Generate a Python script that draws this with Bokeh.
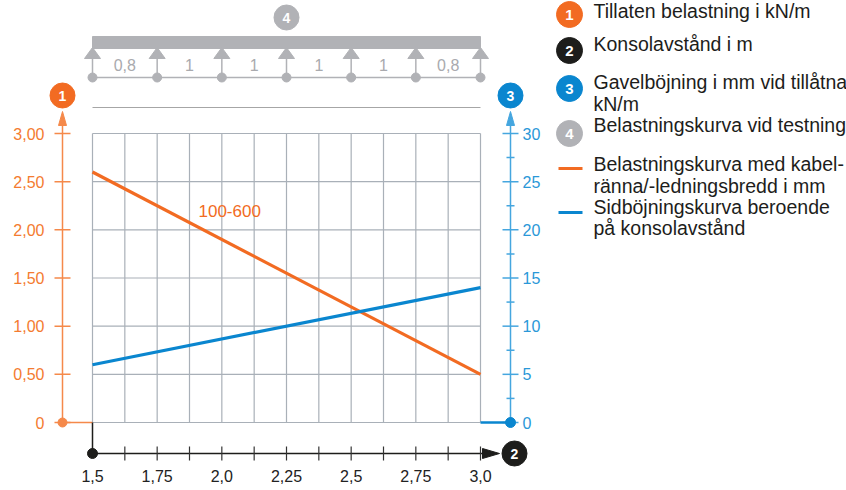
from bokeh.plotting import figure
from bokeh.models import Range1d
from bokeh.core.properties import value
from bokeh.embed import file_html
from bokeh.resources import INLINE

# ---------------- data ----------------
distance = [1.5, 3.0]            # Konsolavstånd i m
load = [2.6, 0.5]                # Tillåten belastning kN/m (100-600)
deflection = [6.0, 14.0]         # Sidböjning i mm
curve_label = "100-600"

x_grid = [1.5, 1.625, 1.75, 1.875, 2.0, 2.125, 2.25, 2.375, 2.5, 2.625, 2.75, 2.875, 3.0]
x_label_pos = [1.5, 1.75, 2.0, 2.25, 2.5, 2.75, 3.0]
x_labels = ["1,5", "1,75", "2,0", "2,25", "2,5", "2,75", "3,0"]

load_ticks = [0, 0.5, 1.0, 1.5, 2.0, 2.5, 3.0]
load_labels = ["0", "0,50", "1,00", "1,50", "2,00", "2,50", "3,00"]

defl_ticks = [0, 5, 10, 15, 20, 25, 30]
defl_minor = [2.5, 7.5, 12.5, 17.5, 22.5, 27.5]
defl_labels = ["0", "5", "10", "15", "20", "25", "30"]

supports = [1.5, 1.75, 2.0, 2.25, 2.5, 2.75, 3.0]
span_labels = ["0,8", "1", "1", "1", "1", "0,8"]

legend_badges = ["1", "2", "3", "4"]
legend_badge_text = [
    ["Tillaten belastning i kN/m"],
    ["Konsolavstånd i m"],
    ["Gavelböjning i mm vid tillåtna", "kN/m"],
    ["Belastningskurva vid testning"],
]
legend_line_text = [
    ["Belastningskurva med kabel-", "ränna/-ledningsbredd i mm"],
    ["Sidböjningskurva beroende", "på konsolavstånd"],
]

# ---------------- style ----------------
ORANGE = "#f26b22"
ORANGE_AX = "#f5894a"
BLUE = "#0a86cf"
BLUE_AX = "#45a6df"
GREY = "#b1b2b6"
GRID = "#a9b0b8"
BLACK = "#1d1d1b"
FONT = value("Liberation Sans")

W, H = 846, 490
KX = 388 / 1.5      # px per m
KY = 289 / 3.0      # px per kN/m


def X(px):  # page px -> data x
    return 1.5 + (px - 92) / KX


def Y(py):  # page px -> data y
    return (422 - py) / KY


p = figure(width=W, height=H, output_backend="svg", toolbar_location=None,
           x_range=Range1d(X(0), X(W)), y_range=Range1d(Y(H), Y(0)),
           min_border=0, outline_line_color=None)
p.extra_y_ranges = {"defl": Range1d(Y(H) * 10, Y(0) * 10)}
p.xaxis.visible = False
p.yaxis.visible = False
p.grid.visible = False
p.background_fill_color = "white"
p.border_fill_color = "white"

x0, x1 = distance[0], distance[-1]
ytop = load_ticks[-1]

# grid
p.segment(x0=x_grid, y0=[0] * len(x_grid), x1=x_grid, y1=[ytop] * len(x_grid),
          line_color=GRID, line_width=1.2)
p.segment(x0=[x0] * len(load_ticks), y0=load_ticks, x1=[x1] * len(load_ticks), y1=load_ticks,
          line_color=GRID, line_width=1.2)

# ---- left axis (load) ----
xl = X(62)
p.segment(x0=[xl], y0=[0], x1=[xl], y1=[Y(124)], line_color=ORANGE_AX, line_width=1.5)
p.patch([xl - 4 / KX, xl + 4 / KX, xl], [Y(125), Y(125), Y(111)], color=ORANGE_AX)
p.segment(x0=[xl - 8 / KX] * len(load_ticks), y0=load_ticks,
          x1=[xl + 8 / KX] * len(load_ticks), y1=load_ticks, line_color=ORANGE_AX, line_width=1.5)
p.text(x=[xl - 18 / KX] * len(load_ticks), y=load_ticks, text=load_labels,
       text_font=FONT, text_font_size="16px", text_color="#f47b30",
       text_align="right", text_baseline="middle")
p.segment(x0=[xl], y0=[0], x1=[x0], y1=[0], line_color=ORANGE_AX, line_width=1.5)
p.scatter([xl], [0], size=9, color=ORANGE_AX)

# ---- right axis (deflection) ----
xr = X(510)
p.segment(x0=[xr], y0=[0], x1=[xr], y1=[Y(124) * 10], y_range_name="defl",
          line_color=BLUE_AX, line_width=1.5)
p.patch([xr - 4 / KX, xr + 4 / KX, xr], [Y(125) * 10, Y(125) * 10, Y(111) * 10],
        color=BLUE_AX, y_range_name="defl")
p.segment(x0=[xr - 8 / KX] * len(defl_ticks), y0=defl_ticks,
          x1=[xr + 8 / KX] * len(defl_ticks), y1=defl_ticks, y_range_name="defl",
          line_color=BLUE_AX, line_width=1.5)
p.segment(x0=[xr - 4 / KX] * len(defl_minor), y0=defl_minor,
          x1=[xr + 4 / KX] * len(defl_minor), y1=defl_minor, y_range_name="defl",
          line_color=BLUE_AX, line_width=1.5)
p.text(x=[xr + 12 / KX] * len(defl_ticks), y=defl_ticks, text=defl_labels,
       y_range_name="defl", text_font=FONT, text_font_size="16px", text_color="#2a98d8",
       text_align="left", text_baseline="middle")
p.segment(x0=[x1], y0=[0], x1=[xr], y1=[0], line_color=BLUE, line_width=2.5)
p.scatter([xr], [0], size=10, color=BLUE)

# ---- bottom axis (distance) ----
yb = Y(453)
p.segment(x0=[x0], y0=[0], x1=[x0], y1=[yb], line_color=BLACK, line_width=1.5)
p.segment(x0=[x0], y0=[yb], x1=[X(484)], y1=[yb], line_color=BLACK, line_width=1.5)
p.patch([X(482), X(482), X(499)], [yb + 5 / KY, yb - 5 / KY, yb], color=BLACK)
p.segment(x0=x_grid[1:], y0=[yb - 7 / KY] * (len(x_grid) - 1),
          x1=x_grid[1:], y1=[yb + 7 / KY] * (len(x_grid) - 1), line_color="#333333", line_width=1.2)
p.scatter([x0], [yb], size=10, color=BLACK)
p.text(x=x_label_pos, y=[Y(475)] * len(x_label_pos), text=x_labels,
       text_font=FONT, text_font_size="16px", text_color="#222222",
       text_align="center", text_baseline="middle")

# ---- curves ----
p.line(distance, load, line_color=ORANGE, line_width=3.2)
p.line(distance, deflection, y_range_name="defl", line_color=BLUE, line_width=3.2)
p.text(x=[X(198)], y=[Y(210)], text=[curve_label], text_font=FONT, text_font_size="17px",
       text_color=ORANGE, text_align="left", text_baseline="middle")

# ---- test beam diagram ----
p.quad(left=[x0], right=[x1], bottom=[Y(48)], top=[Y(36)], color=GREY)
p.patches(xs=[[s - 8 / KX, s + 8 / KX, s] for s in supports],
          ys=[[Y(58), Y(58), Y(47)] for s in supports], color=GREY)
p.segment(x0=supports, y0=[Y(58)] * len(supports), x1=supports, y1=[Y(77)] * len(supports),
          line_color=GREY, line_width=1.5)
p.segment(x0=[x0], y0=[Y(77)], x1=[x1], y1=[Y(77)], line_color=GREY, line_width=1.5)
p.scatter(supports, [Y(77)] * len(supports), size=9, color=GREY)
mids = [(a + b) / 2 for a, b in zip(supports[:-1], supports[1:])]
p.text(x=mids, y=[Y(64)] * len(mids), text=span_labels, text_font=FONT, text_font_size="16px",
       text_color="#a9aaae", text_align="center", text_baseline="middle")
p.segment(x0=[x0], y0=[Y(107)], x1=[x1], y1=[Y(107)], line_color="#a6a6a6", line_width=1)

# ---- badges on chart ----
badge_x = [xl, X(514), xr, (x0 + x1) / 2]
badge_y = [Y(95), Y(453), Y(95), Y(17)]
badge_col = [ORANGE, BLACK, BLUE, GREY]
p.scatter(badge_x, badge_y, size=25, color=badge_col)
p.text(x=badge_x, y=badge_y, text=legend_badges, text_font=FONT, text_font_size="14px",
       text_font_style="bold", text_color="white", text_align="center", text_baseline="middle")

# ---- legend ----
lx_badge = X(569)
lx_text = X(593)
leg_badge_y = [Y(14), Y(50), Y(88), Y(133)]
leg_badge_mid = [[10], [43], [81, 103.5], [124.5]]
p.scatter([lx_badge] * 4, leg_badge_y, size=26, color=badge_col)
p.text(x=[lx_badge] * 4, y=leg_badge_y, text=legend_badges, text_font=FONT,
       text_font_size="15px", text_font_style="bold", text_color="white",
       text_align="center", text_baseline="middle")
tx, ty, tt = [], [], []
for lines, mids_ in zip(legend_badge_text, leg_badge_mid):
    for t, m in zip(lines, mids_):
        tx.append(lx_text); ty.append(Y(m)); tt.append(t)
leg_line_y = [Y(168), Y(212)]
leg_line_mid = [[163, 185.5], [206.5, 227.5]]
for lines, mids_ in zip(legend_line_text, leg_line_mid):
    for t, m in zip(lines, mids_):
        tx.append(lx_text); ty.append(Y(m)); tt.append(t)
p.text(x=tx, y=ty, text=tt, text_font=FONT, text_font_size="19.5px", text_color="#1d1d1b",
       text_align="left", text_baseline="middle")
p.segment(x0=[X(558)] * 2, y0=leg_line_y, x1=[X(582)] * 2, y1=leg_line_y,
          line_color=[ORANGE, BLUE], line_width=3)

open("out.html", "w").write(file_html(p, INLINE))
